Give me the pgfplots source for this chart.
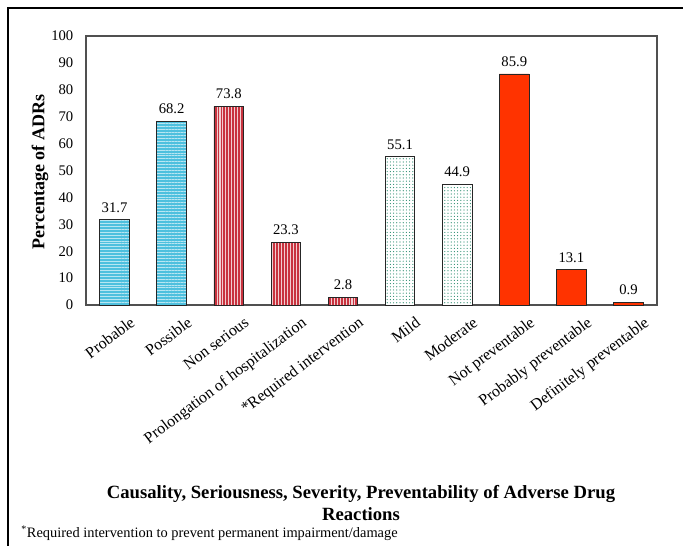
\documentclass[border=0pt]{standalone}
\usepackage{pgfplots}
\pgfplotsset{compat=1.18}
\usetikzlibrary{patterns.meta}
\usepackage{fontspec}
\setmainfont{Liberation Serif}
\definecolor{cblue}{RGB}{78,192,222}
\definecolor{cred}{RGB}{200,50,62}
\definecolor{cgreen}{RGB}{40,140,110}
\definecolor{corange}{RGB}{255,51,0}
\definecolor{axgray}{RGB}{80,80,80}
\begin{document}
\begin{tikzpicture}[x=0.75pt,y=0.75pt]
\useasboundingbox (0,0) rectangle (683,546);
\draw[line width=1pt] (8,0) -- (8,538) -- (683,538);
\begin{axis}[
  at={(86*0.75pt,241*0.75pt)}, anchor=south west,
  scale only axis, width=428.25pt, height=201.75pt,
  xmin=-0.5, xmax=9.5, ymin=0, ymax=100,
  ytick={0,10,...,100},
  xtick={0,...,9},
  xticklabels={Probable,Possible,Non serious,Prolongation of hospitalization,*Required intervention,Mild,Moderate,Not preventable,Probably preventable,Definitely preventable},
  xticklabel style={rotate=37, anchor=north east, font=\fontsize{12}{14}\selectfont, inner sep=1pt, yshift=-12pt, xshift=5pt},
  yticklabel style={font=\fontsize{11}{13}\selectfont, xshift=-6pt},
  /pgf/number format/assume math mode=true,
  major tick length=0pt,
  axis line style={axgray, line width=0.8pt},
  ybar, bar width=0.52, bar shift=0pt,
  nodes near coords,
  nodes near coords style={font=\fontsize{11}{13}\selectfont, black, yshift=2pt},
  point meta=explicit symbolic,
  clip=false,
]
\addplot[draw=black!85, line width=0.6pt, fill=cblue,
  postaction={pattern={Lines[angle=0,distance=2.2pt,line width=0.55pt]}, pattern color=white!60!cblue}]
  coordinates {(0,31.7)[31.7] (1,68.2)[68.2]};
\addplot[draw=black!85, line width=0.6pt, fill=cred,
  postaction={pattern={Lines[angle=90,distance=2.2pt,line width=0.8pt]}, pattern color=white!75!cred}]
  coordinates {(2,73.8)[73.8] (3,23.3)[23.3] (4,2.8)[2.8]};
\addplot[draw=black!85, line width=0.6pt, fill=white,
  postaction={pattern={Dots[distance=2.4pt,radius=0.45pt]}, pattern color=cgreen}]
  coordinates {(5,55.1)[55.1] (6,44.9)[44.9]};
\addplot[draw=black!85, line width=0.6pt, fill=corange]
  coordinates {(7,85.9)[85.9] (8,13.1)[13.1] (9,0.9)[0.9]};
\end{axis}
\node[font=\bfseries\fontsize{13.5}{15.5}\selectfont, rotate=90] at (40,374) {Percentage of ADRs};
\node[font=\bfseries\fontsize{14}{16}\selectfont, align=center] at (361,43) {Causality, Seriousness, Severity, Preventability of Adverse Drug\\Reactions};
\node[font=\fontsize{10.8}{13}\selectfont, anchor=west, inner sep=0pt] at (21,13) {\textsuperscript{*}Required intervention to prevent permanent impairment/damage};
\end{tikzpicture}
\end{document}
